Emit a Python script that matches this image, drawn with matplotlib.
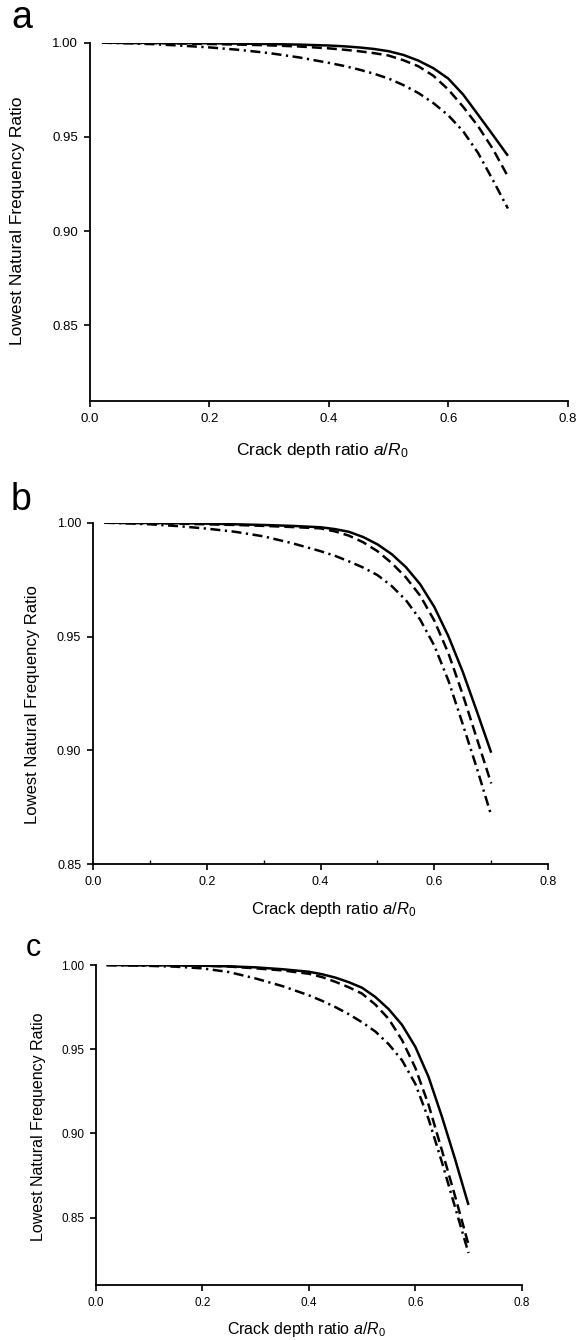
import matplotlib
matplotlib.use("Agg")
import matplotlib.pyplot as plt
from matplotlib.ticker import MultipleLocator, FormatStrFormatter

plt.rcParams['font.family'] = ['Liberation Sans', 'DejaVu Sans']
plt.rcParams['mathtext.fontset'] = 'custom'
plt.rcParams['mathtext.rm'] = 'Liberation Sans'
plt.rcParams['mathtext.it'] = 'Liberation Sans:italic'

# ---------------- data ----------------
crack_ratio = [0.02, 0.05, 0.10, 0.15, 0.20, 0.25, 0.30, 0.35, 0.40, 0.425, 0.45, 0.475,
               0.50, 0.525, 0.55, 0.575, 0.60, 0.625, 0.65, 0.675, 0.70]

a_solid = [1.0, 0.99995, 0.9999, 0.9998, 0.9997, 0.9995, 0.9993, 0.9990, 0.9985, 0.9981, 0.9975, 0.9967,
           0.9955, 0.9935, 0.9905, 0.9865, 0.9810, 0.9725, 0.9618, 0.9510, 0.9400]
a_dashed = [1.0, 0.9999, 0.9998, 0.9996, 0.9993, 0.9990, 0.9986, 0.9980, 0.9970, 0.9963, 0.9955, 0.9945,
            0.9932, 0.9907, 0.9875, 0.9825, 0.9752, 0.9660, 0.9557, 0.9435, 0.9290]
a_dashdot = [1.0, 0.9998, 0.9993, 0.9985, 0.9975, 0.9962, 0.9945, 0.9922, 0.9893, 0.9877, 0.9858, 0.9836,
             0.9810, 0.9775, 0.9733, 0.9680, 0.9615, 0.9530, 0.9415, 0.9270, 0.9120]

b_solid = [1.0, 0.99995, 0.9999, 0.9998, 0.9996, 0.9993, 0.9990, 0.9986, 0.9980, 0.9972, 0.9960, 0.9937,
           0.9905, 0.9862, 0.9805, 0.9730, 0.9630, 0.9500, 0.9345, 0.9170, 0.8990]
b_dashed = [1.0, 0.9999, 0.9998, 0.9996, 0.9993, 0.9990, 0.9986, 0.9981, 0.9975, 0.9962, 0.9943, 0.9914,
            0.9875, 0.9823, 0.9760, 0.9680, 0.9570, 0.9425, 0.9245, 0.9050, 0.8855]
b_dashdot = [1.0, 0.9998, 0.9993, 0.9985, 0.9974, 0.9960, 0.9940, 0.9910, 0.9875, 0.9855, 0.9830, 0.9803,
             0.9770, 0.9722, 0.9660, 0.9575, 0.9460, 0.9305, 0.9115, 0.8920, 0.8715]

c_solid = [1.0, 0.99995, 0.9999, 0.9998, 0.9996, 0.9992, 0.9986, 0.9975, 0.9960, 0.9945, 0.9925, 0.9898,
           0.9865, 0.9810, 0.9738, 0.9645, 0.9515, 0.9335, 0.9100, 0.8845, 0.8575]
c_dashed = [1.0, 0.99995, 0.9999, 0.9998, 0.9996, 0.9991, 0.9980, 0.9968, 0.9948, 0.9928, 0.9900, 0.9868,
            0.9830, 0.9765, 0.9680, 0.9555, 0.9390, 0.9170, 0.8900, 0.8625, 0.8340]
c_dashdot = [1.0, 0.9998, 0.9995, 0.9990, 0.9980, 0.9958, 0.9920, 0.9875, 0.9820, 0.9787, 0.9750, 0.9708,
             0.9660, 0.9605, 0.9530, 0.9435, 0.9295, 0.9085, 0.8830, 0.8560, 0.8290]

panel_letters = ['a', 'b', 'c']
x_label = 'Crack depth ratio $\\mathit{a/R}_{\\mathrm{0}}$'
y_label = 'Lowest Natural Frequency Ratio'
y_ticks_ac = [0.85, 0.90, 0.95, 1.00]
y_ticks_b = [0.85, 0.90, 0.95, 1.00]
x_ticks = [0.0, 0.2, 0.4, 0.6, 0.8]

# ---------------- layout ----------------
W, H = 576, 1340
fig = plt.figure(figsize=(W / 100, H / 100), dpi=100)


def px_axes(l, r, t, b):
    return [l / W, 1 - b / H, (r - l) / W, (b - t) / H]


panels = [
    dict(rect=px_axes(90.0, 567.6, 42.7, 400.7), ylim=(0.81, 1.0), yticks=y_ticks_ac,
         data=(a_solid, a_dashed, a_dashdot), tick_fs=9.5, lab_fs=12.5,
         letter=(11, 28, 27), xlab=(322, 455), ylab=(17.5, 221), minor=False),
    dict(rect=px_axes(93.0, 548.1, 522.7, 864.3), ylim=(0.85, 1.0), yticks=y_ticks_b,
         data=(b_solid, b_dashed, b_dashdot), tick_fs=9, lab_fs=12,
         letter=(11, 510, 27), xlab=(334, 914), ylab=(33, 705), minor=True),
    dict(rect=px_axes(96.0, 521.7, 965, 1285), ylim=(0.81, 1.0), yticks=y_ticks_ac,
         data=(c_solid, c_dashed, c_dashdot), tick_fs=8.5, lab_fs=11.5,
         letter=(26, 956, 22), xlab=(306, 1334), ylab=(39, 1127), minor=False),
]

lw = 1.8
styles = ['-', (0, (4, 2)), (0, (4, 1.8, 0.9, 1.8))]

for letter, p in zip(panel_letters, panels):
    ax = fig.add_axes(p['rect'])
    for series, ls in zip(p['data'], styles):
        ax.plot(crack_ratio, series, color='black', lw=lw, linestyle=ls,
                dash_capstyle='butt', solid_capstyle='butt', solid_joinstyle='round')
    ax.set_xlim(0.0, 0.8)
    ax.set_ylim(*p['ylim'])
    ax.set_xticks(x_ticks)
    ax.set_yticks(p['yticks'])
    ax.xaxis.set_major_formatter(FormatStrFormatter('%.1f'))
    ax.yaxis.set_major_formatter(FormatStrFormatter('%.2f'))
    for s in ['top', 'right']:
        ax.spines[s].set_visible(False)
    for s in ['left', 'bottom']:
        ax.spines[s].set_linewidth(1.3)
    ax.tick_params(which='major', direction='out', length=4.5, width=1.2,
                   labelsize=p['tick_fs'])
    ax.tick_params(axis='y', pad=4.0)
    ax.tick_params(axis='x', pad=4.0)
    if p['minor']:
        ax.xaxis.set_minor_locator(MultipleLocator(0.1))
        ax.tick_params(axis='x', which='minor', direction='in', length=3, width=1.0)

    lx, ly, lfs = p['letter']
    fig.text(lx / W, 1 - ly / H, letter, fontsize=lfs, ha='left', va='baseline')
    xx, xy = p['xlab']
    fig.text(xx / W, 1 - xy / H, x_label, fontsize=p['lab_fs'], ha='center', va='baseline')
    yx, yy = p['ylab']
    fig.text(yx / W, 1 - yy / H, y_label, fontsize=p['lab_fs'], ha='center', va='center',
             rotation=90)

fig.savefig('out.png', dpi=100, facecolor='white')
